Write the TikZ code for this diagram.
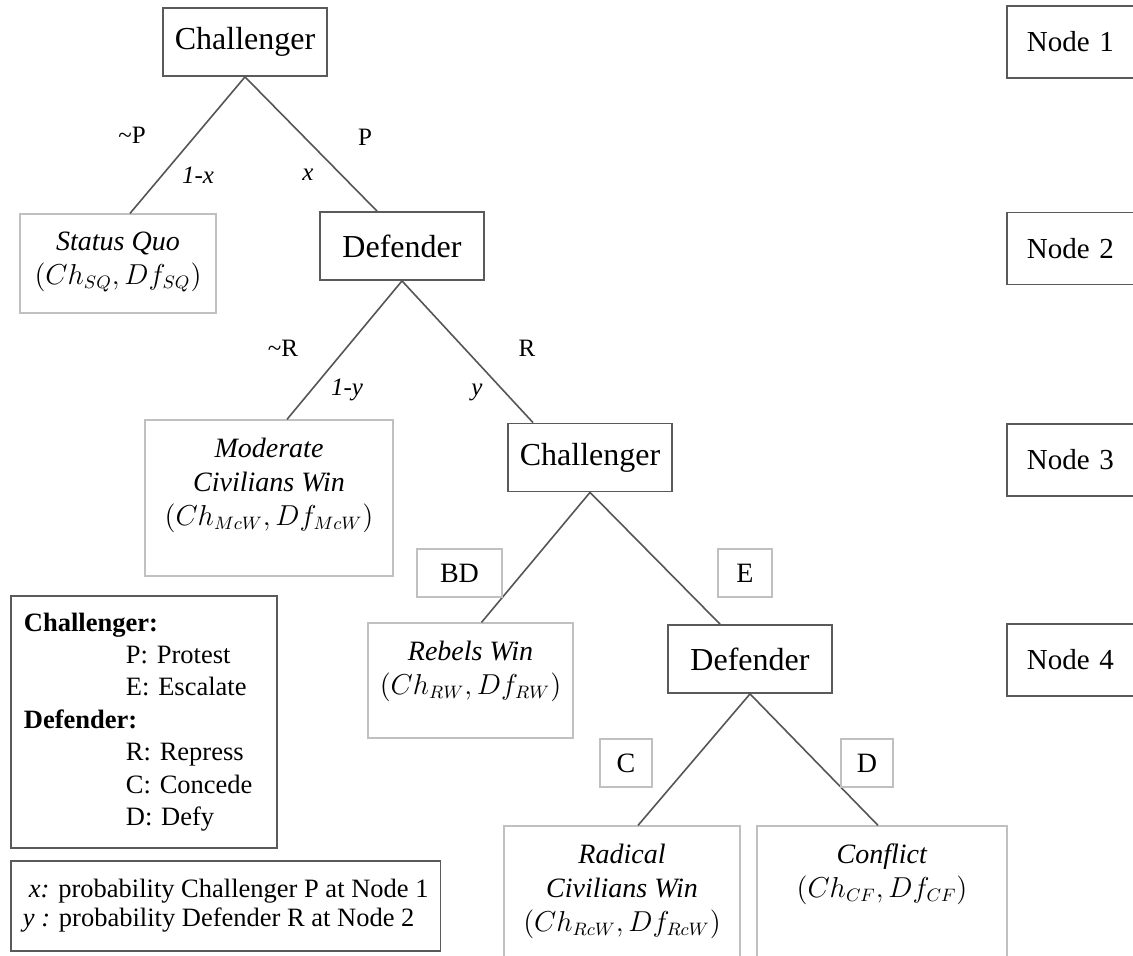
\documentclass[tikz,border=0pt]{standalone}
\usepackage{fontspec}
\setmainfont{Liberation Serif}
\usetikzlibrary{calc}

\definecolor{boxdark}{HTML}{5A5A5A}
\definecolor{boxlight}{HTML}{C0C0C0}
\definecolor{branch}{HTML}{555555}

\newcommand{\payoff}[2]{{\fontsize{13.25}{17}\selectfont$(Ch_{#1}, Df_{#2})$}}

\tikzset{
    player/.style={draw=boxdark, line width=0.9pt, minimum width=82pt, minimum height=34pt,
        inner sep=0pt, font=\fontsize{16}{19}\selectfont},
    outcome/.style={draw=boxlight, line width=0.6pt, inner sep=0pt},
    outtext/.style={align=center, anchor=north, inner sep=0pt, font=\fontsize{14}{17}\selectfont},
    movebox/.style={draw=boxlight, line width=0.6pt, minimum height=24pt, inner sep=0pt,
        font=\fontsize{14}{16}\selectfont},
    stagebox/.style={draw=boxdark, line width=0.9pt, anchor=west, minimum height=36pt,
        text width=50pt, align=left, inner xsep=10pt, font=\fontsize{14.5}{17}\selectfont},
    branchline/.style={draw=branch, line width=0.8pt},
    choice/.style={font=\fontsize{12.5}{14}\selectfont},
    prob/.style={font=\itshape\fontsize{12.5}{14}\selectfont},
}

\begin{document}
\begin{tikzpicture}[x=0.5pt, y=-0.5pt]
    \useasboundingbox (0,0) rectangle (1133,956);
    \clip (0,0) rectangle (1133,956);

    % Players
    \node[player] (chal1) at (245,42) {Challenger};
    \node[player] (def2) at (402,246) {Defender};
    \node[player] (chal3) at (590,457.5) {Challenger};
    \node[player] (def4) at (750,659) {Defender};

    % Outcomes
    \node[outcome, minimum width=98pt, minimum height=49.5pt,
        label={[outtext, yshift=-9pt]north:{\textit{Status Quo}\\\payoff{SQ}{SQ}}}]
        (sq) at (118,263.5) {};
    \node[outcome, minimum width=124pt, minimum height=78pt,
        label={[outtext, yshift=-9pt]north:{\textit{Moderate}\\\textit{Civilians Win}\\\payoff{McW}{McW}}}]
        (mcw) at (269,498) {};
    \node[outcome, minimum width=102.5pt, minimum height=57.5pt,
        label={[outtext, yshift=-9pt]north:{\textit{Rebels Win}\\\payoff{RW}{RW}}}]
        (rw) at (470.5,680.5) {};
    \node[outcome, minimum width=118pt, minimum height=67pt,
        label={[outtext, yshift=-9pt]north:{\textit{Radical}\\\textit{Civilians Win}\\\payoff{RcW}{RcW}}}]
        (rcw) at (622,893) {};
    \node[outcome, minimum width=125pt, minimum height=67pt,
        label={[outtext, yshift=-9pt]north:{\textit{Conflict}\\\payoff{CF}{CF}}}]
        (cf) at (882,893) {};

    % Branches
    \draw[branchline] (chal1.south) -- ($(sq.north)+(12,0)$);
    \draw[branchline] (chal1.south) -- ($(def2.north)+(-25,0)$);
    \draw[branchline] (def2.south) -- ($(mcw.north)+(18,0)$);
    \draw[branchline] (def2.south) -- ($(chal3.north)+(-57,0)$);
    \draw[branchline] (chal3.south) -- ($(rw.north)+(11,0)$);
    \draw[branchline] (chal3.south) -- ($(def4.north)+(-30,0)$);
    \draw[branchline] (def4.south) -- ($(rcw.north)+(16,0)$);
    \draw[branchline] (def4.south) -- ($(cf.north)+(-4,0)$);

    % Moves and probabilities
    \node[choice] (notp) at (132,135) {\textasciitilde P};
    \node[choice] (p) at (365,137) {P};
    \node[prob] (px1) at (198,175) {1-x};
    \node[prob] (px) at (308,175) {x};
    \node[choice] (notr) at (283,348) {\textasciitilde R};
    \node[choice] (r) at (527,348) {R};
    \node[prob] (py1) at (347,390) {1-y};
    \node[prob] (py) at (477,392) {y};

    \node[movebox, minimum width=42.5pt] (bd) at (459.5,573) {BD};
    \node[movebox, minimum width=27pt] (e) at (745,573) {E};
    \node[movebox, minimum width=26pt] (c) at (626,763) {C};
    \node[movebox, minimum width=26pt] (d) at (867,763) {D};

    % Stages
    \foreach \n/\y in {1/42, 2/248.5, 3/460, 4/660} {
        \node[stagebox] (node\n) at (1006,\y) {Node \n};
    }

    % Legend
    \node[draw=boxdark, line width=0.9pt, anchor=north west, minimum width=133pt, minimum height=126pt,
        text width=120pt, align=left, inner xsep=6.5pt, font=\fontsize{13.25}{16.2}\selectfont]
        (legend) at (10,595)
        {\textbf{Challenger:}\\
         \hspace*{51pt}P: Protest\\
         \hspace*{51pt}E: Escalate\\
         \textbf{Defender:}\\
         \hspace*{51pt}R: Repress\\
         \hspace*{51pt}C: Concede\\
         \hspace*{51pt}D: Defy};
    \node[draw=boxdark, line width=0.9pt, anchor=north west, minimum height=45pt,
        align=left, inner xsep=6pt, font=\fontsize{13.25}{14.5}\selectfont]
        (probs) at (10,860)
        {\hspace*{3pt}\textit{x:} probability Challenger P at Node 1\\
         \textit{y :} probability Defender R at Node 2};
\end{tikzpicture}
\end{document}
